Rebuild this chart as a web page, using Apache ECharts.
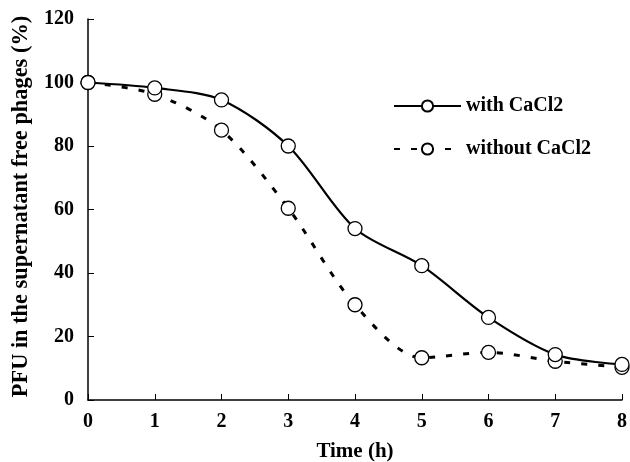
<!DOCTYPE html>
<html>
<head>
<meta charset="utf-8">
<script src="https://cdn.jsdelivr.net/npm/echarts@6/dist/echarts.min.js"></script>
<style>
  html, body { margin: 0; padding: 0; background: #fff; }
  #chart { width: 630px; height: 462px; }
</style>
</head>
<body>
<div id="chart"></div>
<script>
  // values
  var hours = [0, 1, 2, 3, 4, 5, 6, 7, 8];
  var withCaCl2 = [100, 98.3, 94.5, 80, 54, 42.3, 26, 14.3, 11.2];
  var withoutCaCl2 = [100, 96.3, 85, 60.4, 30, 13.3, 15, 12.2, 10.3];
  var yTicks = [0, 20, 40, 60, 80, 100, 120];

  function pairs(xs, ys) {
    var out = [];
    for (var i = 0; i < xs.length; i++) {
      out.push([xs[i], ys[i]]);
    }
    return out;
  }

  var font = '"Liberation Serif", "Times New Roman", serif';
  var chart = echarts.init(document.getElementById('chart'));

  chart.setOption({
    animation: false,
    backgroundColor: '#fff',
    textStyle: { fontFamily: font, color: '#000' },
    grid: { left: 88, right: 8, top: 19, bottom: 62, outerBoundsMode: 'none' },
    legend: {
      orient: 'vertical',
      left: 388,
      top: 91,
      itemGap: 23,
      itemWidth: 67,
      itemHeight: 14,
      textStyle: { fontFamily: font, fontWeight: 'bold', fontSize: 20, color: '#000' },
      data: ['with CaCl2', 'without CaCl2']
    },
    xAxis: {
      type: 'value',
      min: 0,
      max: 8,
      interval: 1,
      name: 'Time (h)',
      nameLocation: 'middle',
      nameGap: 41,
      nameTextStyle: { fontFamily: font, fontWeight: 'bold', fontSize: 21, color: '#000' },
      axisLine: { lineStyle: { color: '#000', width: 1.5 } },
      axisTick: { inside: true, length: 6, lineStyle: { color: '#000', width: 1 } },
      axisLabel: { fontFamily: font, fontWeight: 'bold', fontSize: 20, color: '#000', margin: 12 },
      splitLine: { show: false }
    },
    yAxis: {
      type: 'value',
      min: 0,
      max: yTicks[yTicks.length - 1],
      interval: 20,
      name: 'PFU in the supernatant free phages (%)',
      nameLocation: 'middle',
      nameGap: 56,
      nameTextStyle: { fontFamily: font, fontWeight: 'bold', fontSize: 22.4, color: '#000', padding: [0, 0, 0, 6] },
      axisLine: { show: true, lineStyle: { color: '#000', width: 1.5 } },
      axisTick: { show: true, inside: true, length: 6, lineStyle: { color: '#000', width: 1 } },
      axisLabel: { fontFamily: font, fontWeight: 'bold', fontSize: 20, color: '#000', margin: 14 },
      splitLine: { show: false }
    },
    series: [
      {
        name: 'with CaCl2',
        type: 'line',
        smooth: 0.3,
        data: pairs(hours, withCaCl2),
        symbol: 'circle',
        symbolSize: 14,
        lineStyle: { color: '#000', width: 2.2 },
        itemStyle: { color: '#fff', borderColor: '#000', borderWidth: 1.3 },
        z: 3
      },
      {
        name: 'without CaCl2',
        type: 'line',
        smooth: 0.3,
        data: pairs(hours, withoutCaCl2),
        symbol: 'circle',
        symbolSize: 14,
        lineStyle: { color: '#000', width: 3, type: [6, 11] },
        itemStyle: { color: '#fff', borderColor: '#000', borderWidth: 1.3 },
        z: 2
      }
    ]
  });
</script>
</body>
</html>
